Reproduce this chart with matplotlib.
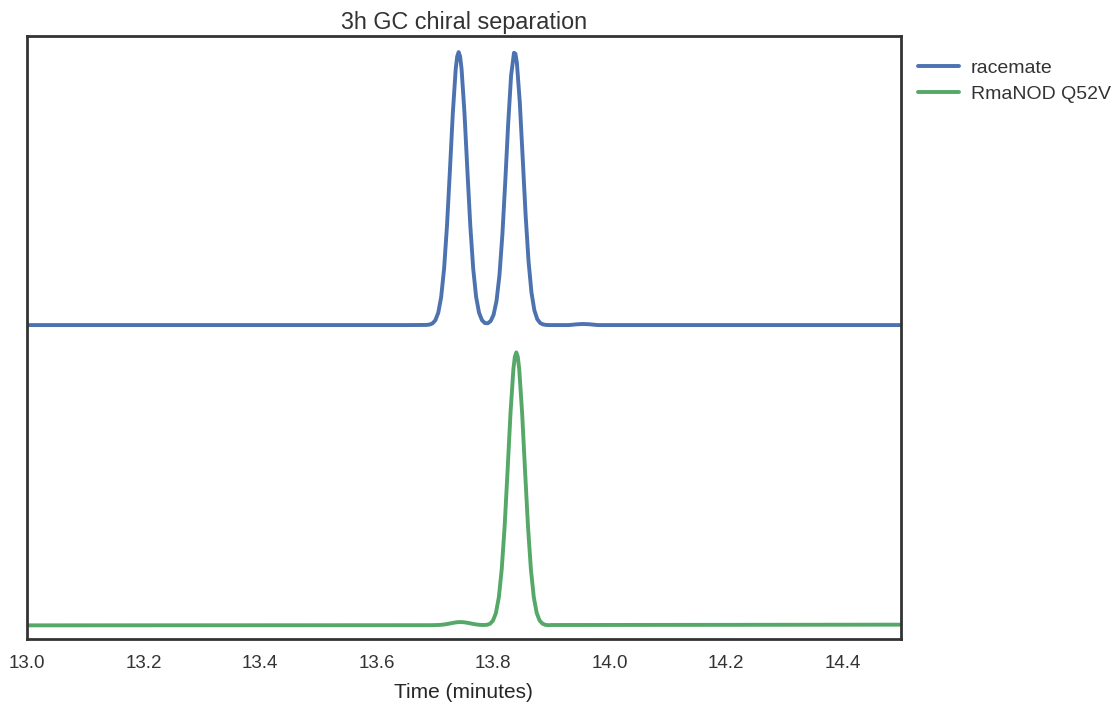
import matplotlib
matplotlib.use("Agg")
import matplotlib.pyplot as plt
import seaborn as sns
import numpy as np

# -------------------- Data --------------------
# racemate trace, normalised detector signal (peak = 1)
racemate_time = [13.0, 13.5, 13.65, 13.686, 13.691, 13.696, 13.701, 13.706, 13.711,
                 13.716, 13.721, 13.726, 13.731, 13.736, 13.7385, 13.741, 13.7435,
                 13.746, 13.751, 13.756, 13.761, 13.766, 13.771, 13.776, 13.781,
                 13.786, 13.791, 13.796, 13.801, 13.806, 13.811, 13.816, 13.821,
                 13.826, 13.831, 13.836, 13.8385, 13.841, 13.846, 13.851, 13.856,
                 13.861, 13.866, 13.871, 13.876, 13.881, 13.886, 13.891, 13.896,
                 13.901, 13.93, 13.945, 13.955, 13.965, 13.98, 14.1, 14.5]
racemate_signal = [0.0, 0.0, 0.0, 0.0005, 0.002, 0.006, 0.0176, 0.0453, 0.103,
                   0.2063, 0.3642, 0.5666, 0.7768, 0.9388, 0.984, 1.0, 0.984,
                   0.9388, 0.7768, 0.5666, 0.3642, 0.2063, 0.103, 0.0454, 0.018,
                   0.0074, 0.0066, 0.0148, 0.0379, 0.0883, 0.1814, 0.3284, 0.5239,
                   0.7367, 0.9131, 0.9975, 0.994, 0.9604, 0.815, 0.6096, 0.4019,
                   0.2335, 0.1196, 0.054, 0.0215, 0.0075, 0.0023, 0.0006, 0.0,
                   0.0, 0.0, 0.003, 0.004, 0.003, 0.0, 0.0, 0.0]

# RmaNOD Q52V trace
mutant_time = [13.0, 13.6, 13.69, 13.695, 13.70, 13.705, 13.71, 13.715, 13.72,
               13.725, 13.73, 13.735, 13.74, 13.745, 13.75, 13.755, 13.76,
               13.765, 13.77, 13.775, 13.78, 13.785, 13.79, 13.795, 13.80,
               13.805, 13.81, 13.815, 13.82, 13.825, 13.83, 13.835, 13.8375,
               13.84, 13.8425, 13.845, 13.85, 13.855, 13.86, 13.865, 13.87,
               13.875, 13.88, 13.885, 13.89, 13.895, 13.90, 14.2, 14.5]
mutant_signal = [0.0, 0.0005, 0.0006, 0.0007, 0.0009, 0.0012, 0.0018, 0.0028, 0.0044,
                 0.0064, 0.0085, 0.0104, 0.0117, 0.012, 0.0113, 0.0097, 0.0077,
                 0.0056, 0.0037, 0.0023, 0.0014, 0.0012, 0.0021, 0.006, 0.0176,
                 0.0453, 0.103, 0.2063, 0.3642, 0.5666, 0.7768, 0.9388, 0.984,
                 1.0, 0.984, 0.9388, 0.7768, 0.5666, 0.3642, 0.2063, 0.103,
                 0.0453, 0.0176, 0.006, 0.0018, 0.0005, 0.0012, 0.0018, 0.0025]

racemate_offset = 1.1
labels = ["racemate", "RmaNOD Q52V"]
xticks = [13.0, 13.2, 13.4, 13.6, 13.8, 14.0, 14.2, 14.4]

# -------------------- Style --------------------
sns.set_style("white")
plt.rcParams['font.family'] = ['Liberation Sans', 'DejaVu Sans']
plt.rcParams['text.color'] = '#333333'
plt.rcParams['xtick.color'] = '#333333'

blue = "#4C72B0"
green = "#55A868"

fig = plt.figure(figsize=(11.17, 7.06), dpi=100)
ax = fig.add_axes([0.0242, 0.0953, 0.7822, 0.8537])

ax.plot(racemate_time, np.array(racemate_signal) + racemate_offset,
        color=blue, lw=2.8, label=labels[0])
ax.plot(mutant_time, mutant_signal, color=green, lw=2.8, label=labels[1])

ax.set_xlim(13.0, 14.5)
ax.set_ylim(-0.049, 2.159)
ax.set_xticks(xticks)
ax.set_xticklabels([f"{t:.1f}" for t in xticks], fontsize=13.5)
ax.set_yticks([])
ax.tick_params(axis='x', length=0, pad=12)

for s in ax.spines.values():
    s.set_color('#333333')
    s.set_linewidth(2.0)

ax.set_title("3h GC chiral separation", fontsize=16.8, pad=5)
ax.set_xlabel("Time (minutes)", fontsize=15, labelpad=8)

ax.legend(loc='upper left', bbox_to_anchor=(1.0, 0.99), frameon=False,
          fontsize=14, handlelength=2.1, handletextpad=0.6, labelspacing=0.42)

fig.savefig("out.png", dpi=100)
